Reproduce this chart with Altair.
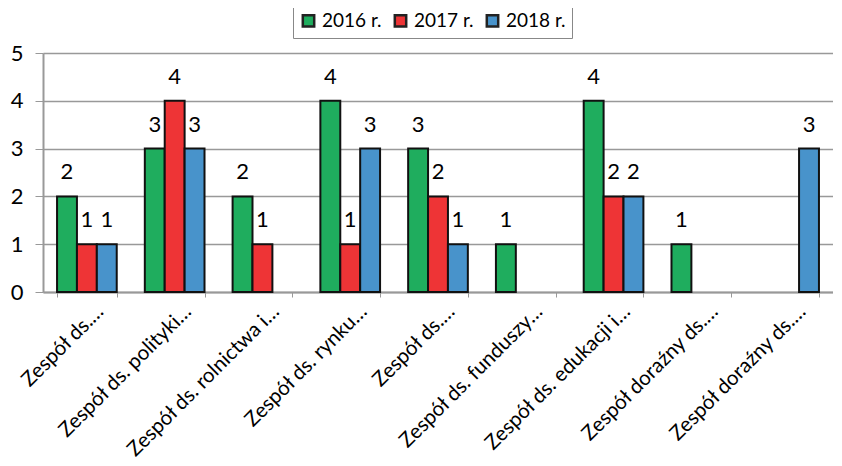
import altair as alt
import pandas as pd

keys = ["c1", "c2", "c3", "c4", "c5", "c6", "c7", "c8", "c9"]
labels = [
    "Zespół ds.…",
    "Zespół ds. polityki…",
    "Zespół ds. rolnictwa i…",
    "Zespół ds. rynku…",
    "Zespół ds.…",
    "Zespół ds. funduszy…",
    "Zespół ds. edukacji i…",
    "Zespół doraźny ds.…",
    "Zespół doraźny ds.…",
]
years = ["2016 r.", "2017 r.", "2018 r."]
v2016 = [2, 3, 2, 4, 3, 1, 4, 1, 0]
v2017 = [1, 4, 1, 1, 2, 0, 2, 0, 0]
v2018 = [1, 3, 0, 3, 1, 0, 2, 0, 3]
colors = ["#1FAD5E", "#EE3436", "#4893CB"]
y_ticks = [0, 1, 2, 3, 4, 5]

rows = []
for i, k in enumerate(keys):
    for y, vals in zip(years, [v2016, v2017, v2018]):
        if vals[i] > 0:
            rows.append({"cat": k, "year": y, "value": vals[i]})
df = pd.DataFrame(rows)

label_map = "{" + ",".join(f"'{k}':'{l}'" for k, l in zip(keys, labels)) + "}"

font = "Lato"

x = alt.X("cat:N", sort=keys, title=None,
          scale=alt.Scale(paddingInner=0.32, paddingOuter=0.16),
          axis=alt.Axis(labelExpr=f"{label_map}[datum.value]", labelAngle=-45,
                        labelAlign="right", labelBaseline="top", labelFontSize=20.5,
                        labelFont=font, labelColor="#000", labelPadding=4,
                        labelOffset=6,
                        tickBand="extent", tickSize=5, tickColor="#999",
                        domainColor="#999", domainWidth=2, labelLimit=300,
                        labelOverlap=False))
xo = alt.XOffset("year:N", sort=years)
y = alt.Y("value:Q", title=None, scale=alt.Scale(domain=[0, 5], nice=False),
          axis=alt.Axis(values=y_ticks, grid=True, labelOverlap=False,
                        gridColor="#999", gridWidth=1.5, domainColor="#999",
                        domainWidth=2, tickColor="#999", tickSize=8,
                        labelFontSize=22, labelFont=font, labelColor="#000",
                        labelPadding=12))

base = alt.Chart(df)
bars = base.mark_bar(stroke="#111", strokeWidth=2).encode(
    x=x, xOffset=xo, y=y,
    color=alt.Color("year:N", sort=years,
                    scale=alt.Scale(domain=years, range=colors),
                    legend=alt.Legend(title=None, orient="none", legendX=250, legendY=-48,
                                      direction="horizontal", symbolType="square",
                                      symbolSize=130, symbolStrokeColor="#222",
                                      symbolStrokeWidth=2.5, labelFontSize=19,
                                      labelFont=font, labelColor="#000",
                                      strokeColor="#888", fillColor="white",
                                      padding=6, columnPadding=7, labelOffset=4)),
)
text = base.mark_text(baseline="bottom", dy=-12, fontSize=22, font=font, color="#000").encode(
    x=x, xOffset=xo, y=y, text="value:Q"
)

chart = alt.layer(bars, text).properties(
    width=790, height=239,
    autosize=alt.AutoSizeParams(type="none"),
    padding={"left": 35, "top": 45, "right": 0, "bottom": 172},
).configure_view(stroke=None)

chart.save("out.html", embed_options={"renderer": "svg", "actions": False})
